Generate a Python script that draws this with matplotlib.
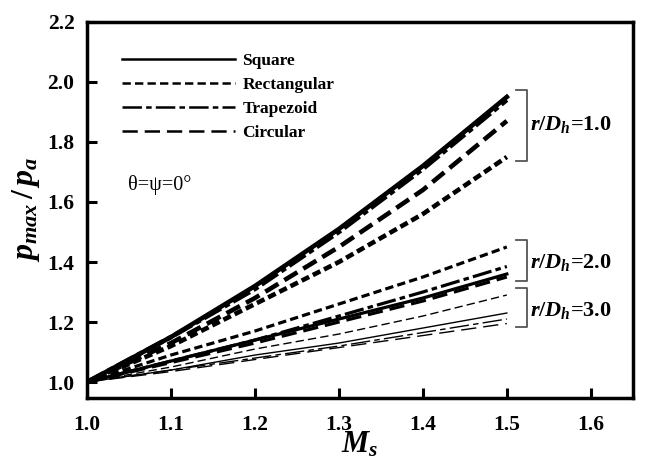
import matplotlib
matplotlib.use("Agg")
import matplotlib.pyplot as plt
from matplotlib.lines import Line2D

plt.rcParams['font.family'] = ['Liberation Serif', 'DejaVu Serif']
plt.rcParams['mathtext.fontset'] = 'custom'
plt.rcParams['mathtext.rm'] = 'Liberation Serif:bold'
plt.rcParams['mathtext.it'] = 'Liberation Serif:italic:bold'
plt.rcParams['mathtext.bf'] = 'Liberation Serif:bold'

# Mach number of the shock
ms = [1.0, 1.1, 1.2, 1.3, 1.4, 1.5]

# p_max / p_a, one list per cross-section and curvature ratio r/Dh
square_r1 = [1.0, 1.15, 1.32, 1.51, 1.72, 1.95]
rect_r1 = [1.0, 1.12, 1.26, 1.40, 1.56, 1.75]
trap_r1 = [1.0, 1.15, 1.31, 1.50, 1.71, 1.94]
circ_r1 = [1.0, 1.13, 1.28, 1.45, 1.64, 1.87]

square_r2 = [1.0, 1.07, 1.14, 1.21, 1.28, 1.36]
rect_r2 = [1.0, 1.09, 1.17, 1.26, 1.35, 1.45]
trap_r2 = [1.0, 1.07, 1.14, 1.22, 1.30, 1.385]
circ_r2 = [1.0, 1.065, 1.13, 1.20, 1.27, 1.35]

square_r3 = [1.0, 1.04, 1.09, 1.13, 1.18, 1.23]
rect_r3 = [1.0, 1.05, 1.11, 1.16, 1.22, 1.29]
trap_r3 = [1.0, 1.04, 1.08, 1.12, 1.165, 1.21]
circ_r3 = [1.0, 1.035, 1.075, 1.115, 1.155, 1.195]

shapes = ['Square', 'Rectangular', 'Trapezoid', 'Circular']
ratio_labels = ['1.0', '2.0', '3.0']
groups = [
    [square_r1, rect_r1, trap_r1, circ_r1],
    [square_r2, rect_r2, trap_r2, circ_r2],
    [square_r3, rect_r3, trap_r3, circ_r3],
]

# dash patterns in points, rescaled by line width so dashes keep their size
dash_pt = [None, (6, 3), (14, 3, 4, 3), (11, 5)]
widths = [3.3, 2.3, 1.0]
label_y = [1.857, 1.40, 1.24]


def style(i, lw):
    if dash_pt[i] is None:
        return '-'
    return (0, tuple(d / lw for d in dash_pt[i]))


fig = plt.figure(figsize=(6.47, 4.66), dpi=100)
ax = fig.add_axes([0.1345, 0.146, 0.978 - 0.1345, 0.953 - 0.146])

for g, series in enumerate(groups):
    for s, vals in enumerate(series):
        ax.plot(ms, vals, color='black', linestyle=style(s, widths[g]), lw=widths[g])
    ends = [v[-1] for v in series]
    lo, hi = min(ends) - 0.012, max(ends) + 0.022
    ax.plot([1.511, 1.524, 1.524, 1.511], [hi, hi, lo, lo], color='#555555', lw=1.3)
    ax.text(1.528, label_y[g], '$r/D_h$=' + ratio_labels[g], fontsize=16,
            fontweight='bold', va='center', ha='left')

handles = [Line2D([], [], color='black', linestyle=style(i, 1.8), lw=1.8) for i in range(4)]
leg = ax.legend(handles, shapes, loc='upper left', bbox_to_anchor=(0.035, 0.96),
                frameon=False, handlelength=6.5, handletextpad=0.45,
                labelspacing=0.45, prop={'weight': 'bold', 'size': 12.5})

ax.text(1.049, 1.657, 'θ=ψ=0°', fontsize=14.5, va='center', ha='left')

ax.set_xlim(1.0, 1.65)
ax.set_ylim(0.947, 2.2)
ax.set_xticks([1.0, 1.1, 1.2, 1.3, 1.4, 1.5, 1.6])
ax.set_yticks([1.0, 1.2, 1.4, 1.6, 1.8, 2.0, 2.2])
ax.xaxis.set_major_formatter(plt.FormatStrFormatter('%.1f'))
ax.yaxis.set_major_formatter(plt.FormatStrFormatter('%.1f'))
ax.tick_params(direction='in', length=7, width=2.2, labelsize=15.5, pad=9)
ax.tick_params(axis='x', pad=12)
for lab in ax.get_xticklabels() + ax.get_yticklabels():
    lab.set_fontweight('bold')
for sp in ax.spines.values():
    sp.set_linewidth(2.5)

ax.set_xlabel('$M_s$', fontsize=22, labelpad=-3)
ax.set_ylabel('$p_{max}\\,/\\,p_a$', fontsize=23, labelpad=4)

fig.savefig('out.png', dpi=100)
